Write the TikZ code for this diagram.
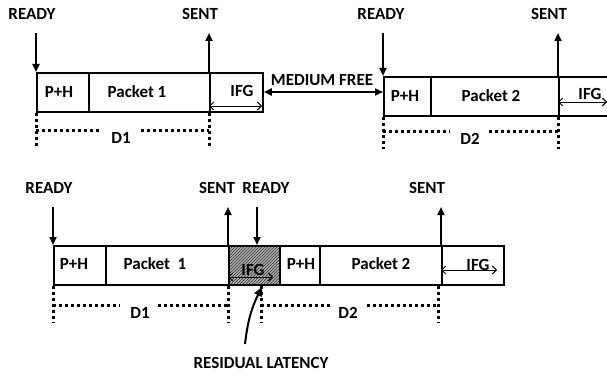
\documentclass[tikz,border=0pt]{standalone}
\usepackage{fontspec}
\setmainfont{Carlito}
\usetikzlibrary{arrows.meta,patterns}
\begin{document}
\begin{tikzpicture}[x=1pt,y=-1pt,
  font=\bfseries\fontsize{17}{19}\selectfont,
  seg/.style={draw, line width=1.8pt, minimum height=39pt, anchor=north west, inner sep=0pt},
  txt/.style={inner sep=0pt},
  evt/.style={line width=2pt, -{Triangle[length=8pt,width=7pt]}},
  ifgarrow/.style={line width=0.9pt, {Straight Barb[length=4pt,width=8pt]}-{Straight Barb[length=4pt,width=8pt]}},
  dots/.style={line width=3pt, dash pattern=on 3pt off 3pt}]
\useasboundingbox (0,0) rectangle (607,377);

% ---------- top row ----------
\node[seg, minimum width=52pt]  (ph1)  at (36,72) {};
\node[seg, minimum width=121pt] (pk1)  at (88,72) {};
\node[seg, minimum width=53pt]  (ifg1) at (209,72) {};
\node[seg, minimum width=47pt]  (ph2)  at (383,76) {};
\node[seg, minimum width=128pt] (pk2)  at (430,76) {};
\node[seg, minimum width=60pt]  (ifg2) at (558,76) {};

\node[txt] at (59,92) {P+H};
\node[txt] at (137,92) {Packet 1};
\node[txt] at (242,91) {IFG};
\node[txt] at (405,96) {P+H};
\node[txt] at (491,96) {Packet 2};
\node[txt] at (590,94) {IFG};

\node[txt] (r1) at (32,14) {READY};
\node[txt] (s1) at (200,14) {SENT};
\node[txt] (r2) at (381,14) {READY};
\node[txt] (s2) at (549,14) {SENT};

\coordinate (r1t) at (36,33);
\coordinate (s1t) at (209,33);
\coordinate (r2t) at (383,33);
\coordinate (s2t) at (558,33);
\draw[evt] (r1t) -- (r1t |- ph1.north);
\draw[evt] (s1t |- pk1.north) -- (s1t);
\draw[evt] (r2t) -- (r2t |- ph2.north);
\draw[evt] (s2t |- pk2.north) -- (s2t);

\draw[ifgarrow] (209,106) coordinate (a1) -- (262,106) coordinate (b1);
\draw[ifgarrow] (558,102) coordinate (a2) -- (607,102) coordinate (b2);

\node[txt] (mf) at (322,80) {MEDIUM FREE};
\draw[line width=2pt, {Triangle[length=8pt,width=7pt]}-{Triangle[length=8pt,width=7pt]}]
  (ifg1.east |- 0,92) -- (ph2.west |- 0,92);

% D1 / D2 top
\coordinate (d1a) at (36,147);
\coordinate (d1b) at (209,147);
\draw[dots] (d1a |- ph1.south) -- (d1a);
\draw[dots] (d1b |- pk1.south) -- (d1b);
\node[txt] (D1) at (121,138) {D1};
\draw[dots] (36,130) -- (100,130);
\draw[dots] (141,130) -- (209,130);

\coordinate (d2a) at (383,149);
\coordinate (d2b) at (558,149);
\draw[dots] (d2a |- ph2.south) -- (d2a);
\draw[dots] (d2b |- pk2.south) -- (d2b);
\node[txt] (D2) at (470,139) {D2};
\draw[dots] (383,131) -- (450,131);
\draw[dots] (489,131) -- (558,131);

% ---------- bottom row ----------
\node[seg, minimum width=52pt]  (ph3)  at (53,245) {};
\node[seg, minimum width=123pt] (pk3)  at (105,245) {};
\fill[gray!60] (228,245) rectangle (279,284);
\fill[pattern=north east lines, pattern color=gray!35!black] (228,245) rectangle (279,284);
\node[seg, minimum width=51pt, line width=2.4pt] (ifg3) at (228,245) {};
\node[seg, minimum width=40pt]  (ph4)  at (279,245) {};
\node[seg, minimum width=122pt] (pk4)  at (319,245) {};
\node[seg, minimum width=62pt]  (ifg4) at (441,245) {};

\node[txt] at (74,264) {P+H};
\node[txt] at (155,264) {Packet\ \ 1};
\node[txt] at (253,270) {IFG};
\node[txt] at (301,264) {P+H};
\node[txt] at (381,264) {Packet 2};
\node[txt] at (478,265) {IFG};

\node[txt] (r3) at (49,188) {READY};
\node[txt] (s3) at (217,188) {SENT};
\node[txt] (r4) at (266,188) {READY};
\node[txt] (s4) at (427,188) {SENT};

\coordinate (r3t) at (53,207);
\coordinate (s3t) at (228,207);
\coordinate (r4t) at (257,207);
\coordinate (s4t) at (441,207);
\draw[evt] (r3t) -- (r3t |- ph3.north);
\draw[evt] (s3t |- pk3.north) -- (s3t);
\draw[evt] (r4t) -- (r4t |- ifg3.north);
\draw[evt] (s4t |- pk4.north) -- (s4t);

\draw[ifgarrow] (228,277) coordinate (a3) -- (273,277) coordinate (b3);
\draw[ifgarrow] (441,270) coordinate (a4) -- (497,270) coordinate (b4);

% D1 / D2 bottom
\coordinate (d3a) at (53,323);
\coordinate (d3b) at (228,323);
\coordinate (d4a) at (261,323);
\coordinate (d4b) at (438,323);
\draw[dots] (d3a |- ph3.south) -- (d3a);
\draw[dots] (d3b |- pk3.south) -- (d3b);
\draw[dots] (d4a |- ph4.south) -- (d4a);
\draw[dots] (d4b |- pk4.south) -- (d4b);
\node[txt] (D3) at (140,313) {D1};
\draw[dots] (53,305) -- (120,305);
\draw[dots] (158,305) -- (228,305);
\node[txt] (D4) at (348,313) {D2};
\draw[dots] (261,305) -- (330,305);
\draw[dots] (367,305) -- (438,305);

% residual latency
\node[txt] (rl) at (261,363) {RESIDUAL LATENCY};
\coordinate (rlt) at (245,344);
\coordinate (rlh) at (262,287);
\draw[line width=2pt, -{Triangle[length=9pt,width=8pt]}] (rlt) to[bend left=10] (rlh);
\end{tikzpicture}
\end{document}
